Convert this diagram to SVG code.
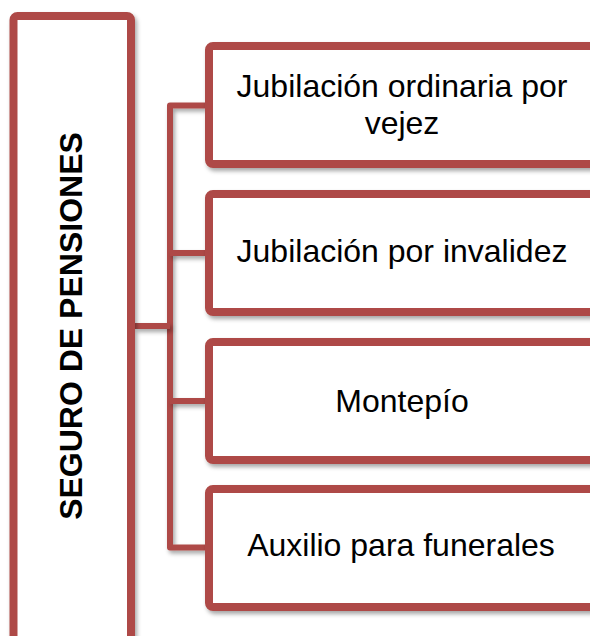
<svg xmlns="http://www.w3.org/2000/svg" width="590" height="636" viewBox="0 0 590 636">
<style>
.box{fill:#ffffff;stroke:#ae4a46;stroke-width:8;filter:url(#sh)}
.conn{fill:none;stroke:#ae4a46;stroke-width:6;stroke-linejoin:round;filter:url(#sh)}
.lbl{font-family:"Liberation Sans",Arial,sans-serif;font-size:32px;fill:#000;text-anchor:middle}
.title{font-family:"Liberation Sans",Arial,sans-serif;font-size:32px;font-weight:bold;fill:#000;text-anchor:middle}
</style>
<defs>
<filter id="sh" filterUnits="userSpaceOnUse" x="0" y="0" width="700" height="700">
<feDropShadow dx="2" dy="3" stdDeviation="2" flood-color="#000" flood-opacity="0.35"/>
</filter>
</defs>
<rect width="590" height="636" fill="#ffffff"/>
<g id="connectors">
<path class="conn" d="M205,105.5 H170 V547.5 H205"/>
<path class="conn" d="M135,326 H170"/>
<path class="conn" d="M170,253 H205"/>
<path class="conn" d="M170,401 H205"/>
</g>
<g id="root">
<rect class="box" x="13.5" y="16" width="117.5" height="630" rx="4"/>
<text class="title" transform="translate(81.5,326) rotate(-90)">SEGURO DE PENSIONES</text>
</g>
<g id="n1">
<rect class="box" x="209" y="46" width="420" height="118" rx="4"/>
<text class="lbl" x="402" y="97">Jubilación ordinaria por</text>
<text class="lbl" x="402" y="134">vejez</text>
</g>
<g id="n2">
<rect class="box" x="209" y="194" width="420" height="118" rx="4"/>
<text class="lbl" x="402" y="262">Jubilación por invalidez</text>
</g>
<g id="n3">
<rect class="box" x="209" y="342" width="420" height="118" rx="4"/>
<text class="lbl" x="402" y="412">Montepío</text>
</g>
<g id="n4">
<rect class="box" x="209" y="489" width="420" height="118" rx="4"/>
<text class="lbl" x="401" y="556">Auxilio para funerales</text>
</g>
</svg>
